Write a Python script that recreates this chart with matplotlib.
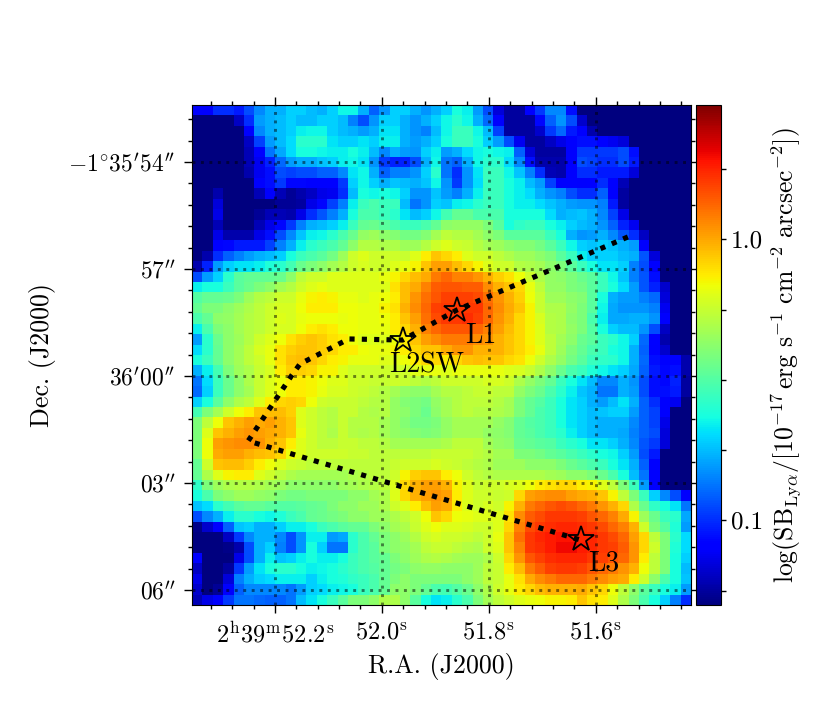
import numpy as np
from matplotlib import pyplot as plt
from matplotlib.colors import LogNorm

# map: position along the colour bar in percent
sb_levels = [
[12,11,17,17,15,20,26,30,30,33,33,31,30,33,37,37,30,22,27,33,33,30,27,30,33,38,36,28,20,8,3,3,11,18,26,26,14,0,0,0,0,0,0,0,0,0,0,0],
[0,0,0,0,6,17,28,30,31,33,31,31,33,33,31,25,20,27,33,33,30,27,30,33,37,40,37,30,23,11,3,3,3,13,22,27,20,7,0,0,0,0,0,0,0,0,0,0],
[0,0,0,0,0,11,26,30,31,33,36,37,37,33,31,30,28,30,35,35,30,27,25,31,37,42,42,37,31,19,3,3,3,7,18,23,15,11,4,0,0,0,0,0,0,0,0,0],
[0,0,0,0,0,6,19,28,31,34,40,40,40,35,33,33,35,33,36,36,30,28,30,33,38,42,42,38,33,28,20,10,3,3,6,9,12,14,14,12,10,8,0,0,0,0,0,0],
[0,0,0,0,0,5,12,24,29,34,38,38,37,36,36,38,36,31,26,30,28,27,33,36,28,30,34,37,38,37,36,22,8,3,3,3,11,18,18,18,18,20,14,0,0,0,0,0],
[0,0,0,0,0,5,10,16,23,28,30,30,32,33,36,37,35,27,18,16,16,20,30,37,24,22,30,37,40,40,34,26,14,4,4,4,11,20,19,17,17,20,15,0,0,0,0,0],
[0,0,0,0,0,4,10,14,20,19,20,20,22,22,26,35,37,30,22,25,25,27,33,40,24,17,27,35,42,42,37,32,25,17,5,4,11,17,17,15,15,15,8,0,0,0,0,0],
[0,0,0,0,0,0,11,14,18,13,13,12,12,12,18,33,37,33,30,32,31,30,32,37,27,18,27,34,42,42,38,36,31,28,19,11,12,11,12,17,12,5,0,0,0,0,0,0],
[0,0,4,0,0,0,5,11,5,2,4,6,9,10,17,31,38,37,38,37,33,27,27,32,28,25,30,36,42,42,38,36,34,30,27,25,20,17,17,22,12,3,0,0,0,0,0,0],
[0,0,8,0,0,0,0,0,2,2,3,9,13,19,25,36,42,44,42,42,31,24,27,33,32,36,37,40,42,42,38,36,36,34,32,30,28,27,27,25,15,3,0,0,0,0,0,0],
[0,0,9,0,0,0,2,5,5,4,9,17,21,25,30,38,44,44,42,40,35,31,33,37,43,47,47,44,44,44,38,38,38,38,34,30,31,32,30,26,19,9,0,0,0,0,0,0],
[0,0,5,0,0,0,5,9,13,18,25,30,31,33,36,42,47,48,46,44,42,42,44,47,52,53,53,53,50,46,38,41,42,42,38,36,33,31,30,27,22,16,10,0,0,0,0,0],
[0,0,9,4,4,4,9,14,20,26,32,36,37,40,44,48,53,54,52,51,49,49,51,55,58,57,57,55,52,50,46,46,46,46,42,38,30,27,28,30,26,21,17,6,0,0,0,0],
[0,0,12,13,15,15,15,19,25,30,36,40,42,44,47,52,57,57,56,56,54,54,57,60,62,60,59,57,55,54,52,51,51,49,46,42,37,33,32,33,32,30,28,11,0,0,0,0],
[0,4,17,22,25,28,30,31,33,38,42,44,46,49,54,60,62,60,60,60,59,62,66,70,68,66,62,60,60,58,56,54,54,52,50,46,42,36,33,33,33,31,30,21,8,0,0,0],
[4,16,28,33,35,35,36,39,40,43,48,50,52,55,57,60,61,60,60,62,63,65,70,74,74,71,68,65,62,60,60,57,56,55,52,50,46,42,38,35,35,33,25,20,11,0,0,0],
[20,28,33,40,46,47,47,47,48,52,58,60,60,62,62,62,62,62,63,65,68,71,73,78,80,77,77,75,72,69,67,64,60,56,53,52,50,48,46,42,37,32,25,21,14,0,0,0],
[36,38,38,42,46,48,50,52,55,57,60,62,63,62,62,62,62,62,62,67,71,73,77,81,82,82,81,81,76,72,70,68,63,58,53,53,50,49,46,42,38,34,28,21,16,7,0,0],
[45,47,47,48,50,54,57,58,60,60,63,65,66,65,63,63,62,63,64,66,71,75,79,82,84,84,84,83,79,75,72,69,64,59,54,54,52,51,46,38,30,28,28,25,23,8,0,0],
[47,50,50,52,54,56,58,60,61,61,64,66,66,66,64,64,63,63,65,67,72,76,80,84,85,85,85,85,80,76,73,70,65,59,56,56,53,50,46,37,29,27,27,27,25,10,0,0],
[44,47,52,53,55,57,58,60,62,61,63,64,64,64,63,64,63,63,64,66,70,74,79,83,85,85,86,84,80,75,72,68,65,61,57,56,52,50,44,36,29,29,30,30,27,11,0,0],
[36,44,50,52,55,57,58,60,61,61,64,66,67,66,64,64,63,63,63,66,68,72,77,80,82,82,82,80,77,74,71,68,65,62,57,56,53,50,45,38,33,31,31,27,20,6,0,0],
[28,40,48,52,54,57,60,62,64,67,69,70,69,67,66,64,62,62,62,64,66,70,74,76,78,78,78,76,75,72,70,68,65,62,58,55,52,48,46,42,40,37,33,23,12,4,0,0],
[34,40,47,52,55,58,61,63,67,69,70,70,69,68,66,66,64,63,63,65,66,68,70,70,73,75,75,72,72,72,70,68,66,63,58,54,50,47,44,42,38,37,30,22,11,7,0,0],
[38,42,47,52,55,58,60,63,67,70,71,70,68,66,65,63,63,63,62,62,64,66,68,68,66,68,70,71,70,70,68,67,64,60,56,53,49,46,42,41,40,37,30,23,14,11,11,4],
[30,36,43,50,54,56,59,61,66,69,69,68,65,65,62,60,60,60,60,60,60,62,63,63,62,63,63,63,63,63,62,61,59,56,52,48,44,42,39,37,35,33,29,22,15,13,14,4],
[24,34,42,48,52,56,59,62,64,66,66,65,64,62,62,60,60,59,59,60,59,58,57,58,60,60,60,60,61,61,60,56,53,50,47,42,38,35,31,26,26,30,27,20,14,13,16,3],
[23,33,42,48,52,55,59,62,64,66,66,65,63,61,61,60,59,58,57,55,53,52,52,55,57,57,58,59,59,58,58,53,50,48,44,40,36,32,30,24,24,30,28,20,14,14,15,3],
[33,38,46,52,56,58,62,66,68,69,68,64,60,59,59,59,58,57,57,53,51,50,49,53,55,57,58,58,58,57,55,50,47,45,42,38,35,33,30,28,31,35,30,22,17,11,10,0],
[43,50,55,60,64,66,70,71,71,69,62,60,58,57,59,59,57,56,57,53,52,50,48,52,55,57,58,57,57,56,55,50,47,44,42,38,35,33,31,32,33,33,28,22,19,11,0,0],
[50,58,64,70,72,74,73,74,72,70,62,60,58,57,59,57,57,57,55,53,51,49,49,50,53,55,55,55,55,53,51,47,45,44,42,38,35,33,31,30,30,30,26,22,19,9,0,0],
[50,62,70,72,74,75,74,73,72,70,63,60,58,56,59,57,56,57,55,53,52,51,50,51,53,55,55,55,53,52,51,47,46,44,42,40,36,33,31,30,30,29,25,22,20,8,0,0],
[50,64,74,75,76,76,75,72,70,66,62,60,58,58,59,59,58,58,57,55,55,55,55,55,56,58,58,58,55,53,52,48,47,46,45,42,40,38,35,35,33,30,26,21,18,8,0,0],
[50,64,73,74,74,72,71,70,68,64,62,60,60,60,60,59,59,58,58,58,58,58,58,59,59,59,59,58,57,55,55,50,50,49,47,46,44,42,40,38,37,33,28,20,15,0,0,0],
[47,60,70,71,71,69,66,64,62,60,59,58,58,58,58,58,58,58,58,59,60,60,60,61,60,59,58,57,56,54,54,54,52,52,52,50,48,46,44,42,38,35,30,22,11,0,0,0],
[47,56,62,65,66,66,62,60,58,56,55,55,55,55,55,56,57,58,58,60,65,69,70,70,66,64,60,58,57,56,56,56,56,56,55,54,52,52,50,48,44,38,31,24,11,0,0,0],
[41,50,54,56,57,57,56,55,54,52,52,52,52,52,54,55,56,57,58,62,68,72,74,74,72,65,62,59,60,60,61,62,64,66,67,68,68,66,65,62,58,50,42,28,11,0,0,0],
[38,44,50,52,54,54,53,52,50,49,49,50,50,50,50,52,52,55,56,62,68,72,74,75,74,66,62,60,60,59,60,68,74,75,76,76,74,73,72,70,65,58,50,42,33,26,20,11],
[32,34,40,43,46,47,47,46,45,45,46,47,48,50,52,52,54,54,56,60,62,66,71,74,73,66,62,60,61,60,65,72,78,80,82,83,82,80,78,75,72,68,56,48,41,38,35,24],
[20,26,30,36,40,40,38,37,39,42,44,47,48,49,50,52,52,54,54,56,58,60,64,70,68,64,63,62,62,62,67,76,81,83,85,85,85,84,82,80,77,73,65,54,48,42,40,29],
[1,7,11,22,32,33,30,30,33,36,36,38,42,44,46,47,47,50,52,55,56,59,62,64,62,62,61,60,60,62,68,77,83,85,86,87,87,86,85,83,80,77,72,60,50,45,39,28],
[0,0,0,6,18,26,30,30,26,20,27,36,36,28,29,40,44,47,50,52,54,57,60,61,60,60,59,58,60,63,70,79,85,87,88,89,89,87,87,85,83,80,74,68,58,50,40,34],
[0,0,0,1,4,20,30,33,25,20,27,38,33,24,24,40,44,46,50,52,53,55,58,59,59,58,57,56,60,62,70,77,85,86,88,90,90,88,87,85,84,81,75,68,60,50,39,34],
[11,0,0,0,9,20,30,36,32,33,36,38,36,36,38,42,44,46,47,50,52,54,56,57,56,55,54,54,56,60,68,75,82,84,86,87,87,87,85,84,82,80,75,66,58,50,38,33],
[6,0,0,3,18,28,35,38,40,40,38,36,37,38,40,42,44,45,47,49,50,52,53,53,52,52,52,54,58,59,66,71,78,81,84,85,85,84,82,80,78,75,72,64,58,50,38,31],
[9,0,0,8,25,30,33,34,36,36,36,33,36,38,39,41,42,44,47,50,52,50,50,50,50,50,52,54,58,59,63,67,73,76,78,80,80,80,78,76,74,73,66,60,52,44,38,32],
[7,0,2,11,22,26,26,26,26,24,28,33,34,36,37,38,42,44,47,52,52,50,47,44,43,45,48,52,56,60,63,66,68,71,72,72,72,73,70,68,64,58,52,46,42,38,36,28],
[5,9,11,18,24,24,23,22,22,24,31,35,38,42,46,50,50,52,56,56,52,46,38,35,36,40,44,50,55,58,60,62,63,64,65,65,66,70,67,66,62,56,50,44,38,33,25,17],
]

sb_min = 0.05
sb_max = 3.0
cbar_ticks = [0.0562, 0.1, 0.178, 0.316, 0.562, 1.0, 1.78]
cbar_labels = ['', '0.1', '', '', '', '1.0', '']

# R.A. in seconds of 2h39m, Dec. in arcsec past -1d35m
ra_left = 52.355
ra_right = 51.422
dec_top = 52.40
dec_bottom = 66.42
ra_ticks = [52.2, 52.0, 51.8, 51.6]
ra_labels = [r'$2^{\mathrm{h}}39^{\mathrm{m}}52.2^{\mathrm{s}}$', r'$52.0^{\mathrm{s}}$',
             r'$51.8^{\mathrm{s}}$', r'$51.6^{\mathrm{s}}$']
dec_ticks = [54, 57, 60, 63, 66]
dec_labels = [r"$-1^{\circ}35^{\prime}54^{\prime\prime}$", r"$57^{\prime\prime}$",
              r"$36^{\prime}00^{\prime\prime}$", r"$03^{\prime\prime}$", r"$06^{\prime\prime}$"]

path_ra = [51.540, 51.860, 51.961, 52.062, 52.153, 52.168, 52.250, 51.628]
path_dec = [56.10, 58.15, 58.99, 58.96, 59.66, 59.97, 61.82, 64.60]

source_names = ['L1', 'L2SW', 'L3']
source_ra = [51.860, 51.961, 51.628]
source_dec = [58.15, 58.99, 64.58]
name_ra = [51.815, 51.916, 51.585]
name_dec = [58.88, 59.69, 65.24]


def main():
    plt.rcParams['font.family'] = 'cmr10'
    plt.rcParams['mathtext.fontset'] = 'cm'
    plt.rcParams['axes.unicode_minus'] = False
    plt.rcParams['font.size'] = 18

    fig = plt.figure(figsize=(8.3, 7.12), dpi=100)
    ax = fig.add_axes([192 / 830, 1 - 605 / 712, 499 / 830, 500 / 712])
    cax = fig.add_axes([696 / 830, 1 - 605 / 712, 25 / 830, 500 / 712])

    levels = np.array(sb_levels, dtype=float)
    sb = sb_min * (sb_max / sb_min) ** (levels / 100)
    im = ax.imshow(sb, cmap='jet', norm=LogNorm(sb_min, sb_max), aspect='auto',
                   interpolation='nearest', origin='upper',
                   extent=[ra_left, ra_right, dec_bottom, dec_top])

    ax.set_xticks(ra_ticks)
    ax.set_xticklabels(ra_labels)
    ax.set_yticks(dec_ticks)
    ax.set_yticklabels(dec_labels)
    ax.set_xticks(np.arange(51.44, 52.36, 0.04), minor=True)
    ax.set_yticks(np.arange(52.8, 66.4, 0.6), minor=True)
    ax.tick_params(which='major', length=6, width=1, top=True, right=True, pad=6)
    ax.tick_params(which='minor', length=3, width=1, top=True, right=True)
    ax.tick_params(axis='y', which='major', labelsize=17)
    ax.tick_params(axis='x', which='major', labelsize=17.6)
    ax.grid(True, which='major', color='black', alpha=0.5, lw=2.1, ls=(0, (1, 1.9)))

    ax.plot(path_ra, path_dec, color='black', lw=3.7, ls=(0, (1, 1.4)))
    ax.plot(source_ra, source_dec, ls='none', marker='*', ms=19, mfc='none', mec='black', mew=1.3)
    for name, x, y in zip(source_names, name_ra, name_dec):
        ax.text(x, y, name, ha='center', va='center', fontsize=20)

    ax.set_xlim(ra_left, ra_right)
    ax.set_ylim(dec_bottom, dec_top)
    ax.set_xlabel('R.A. (J2000)', fontsize=18.7, labelpad=4)
    ax.set_ylabel('Dec. (J2000)', fontsize=18.7, labelpad=9)

    cbar = fig.colorbar(im, cax=cax)
    cbar.minorticks_off()
    cbar.set_ticks(cbar_ticks, labels=cbar_labels)
    cbar.ax.minorticks_off()
    cbar.ax.tick_params(length=3.5, width=1)
    cbar.set_label(r'$\log(\mathrm{SB_{Ly\alpha}}/[10^{-17}\,\mathrm{erg\ s^{-1}\ cm^{-2}\ arcsec^{-2}}])$',
                   fontsize=18.5, labelpad=5)

    fig.savefig('out.png', dpi=100)


if __name__ == '__main__':
    main()
